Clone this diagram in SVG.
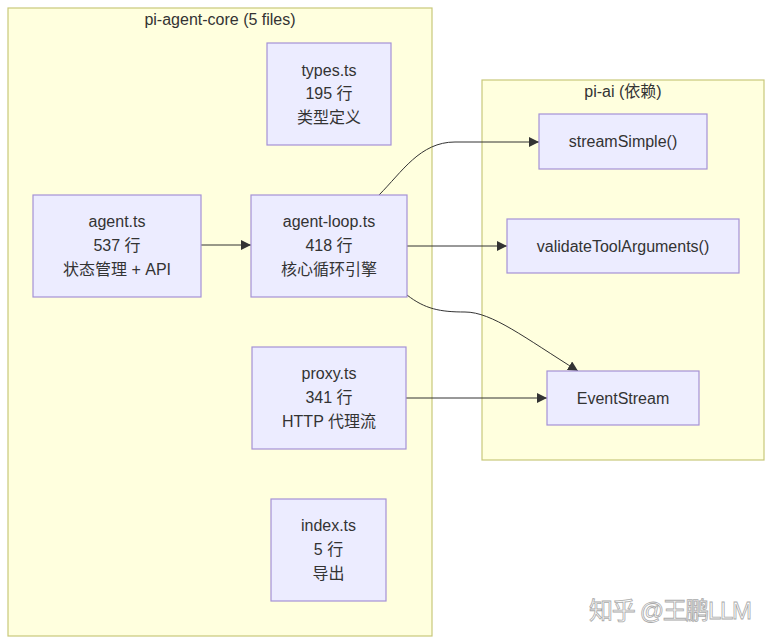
<svg xmlns="http://www.w3.org/2000/svg" width="773" height="644" viewBox="0 0 773 644">
<style>
.cluster{fill:#ffffde;stroke:#c8c87a;stroke-width:1.2}
.node rect{fill:#ececff;stroke:#a592d6;stroke-width:1.2}
text{font-family:"Liberation Sans","Noto Sans CJK SC",sans-serif;font-size:16px;fill:#333;text-anchor:middle}
.edge{fill:none;stroke:#333;stroke-width:1}
.wm{font-size:24px;fill:#fff;stroke:#aaa;stroke-width:0.8;text-anchor:start}
</style>
<defs>
<marker id="arr" viewBox="0 0 10 10" refX="10" refY="5" markerWidth="10" markerHeight="10" markerUnits="userSpaceOnUse" orient="auto">
<path d="M0,0 L10,5 L0,10 z" fill="#333"/>
</marker>
</defs>
<rect width="773" height="644" fill="#fff"/>
<g id="cluster-core">
<rect class="cluster" x="8" y="8" width="424" height="628"/>
<text x="220" y="25">pi-agent-core (5 files)</text>
</g>
<g id="cluster-ai">
<rect class="cluster" x="482" y="80" width="282" height="380"/>
<text x="623" y="97">pi-ai (依赖)</text>
</g>
<g id="edges">
<path class="edge" d="M201,245 L251,245" marker-end="url(#arr)"/>
<path class="edge" d="M379,195 C402,172 420,142 455,142 L539,142" marker-end="url(#arr)"/>
<path class="edge" d="M407,246 L507,246" marker-end="url(#arr)"/>
<path class="edge" d="M407,295 C425,309 440,312 465,312 C492,312 525,338 578,371" marker-end="url(#arr)"/>
<path class="edge" d="M406,398 L547,398" marker-end="url(#arr)"/>
</g>
<g id="types" class="node">
<rect x="267" y="43" width="124" height="102"/>
<text x="329" y="76">types.ts</text>
<text x="329" y="99">195 行</text>
<text x="329" y="123">类型定义</text>
</g>
<g id="agent" class="node">
<rect x="33" y="195" width="168" height="102"/>
<text x="117" y="227">agent.ts</text>
<text x="117" y="251">537 行</text>
<text x="117" y="275">状态管理 + API</text>
</g>
<g id="agent-loop" class="node">
<rect x="251" y="195" width="156" height="102"/>
<text x="329" y="227">agent-loop.ts</text>
<text x="329" y="251">418 行</text>
<text x="329" y="275">核心循环引擎</text>
</g>
<g id="proxy" class="node">
<rect x="252" y="347" width="154" height="102"/>
<text x="329" y="379">proxy.ts</text>
<text x="329" y="403">341 行</text>
<text x="329" y="427">HTTP 代理流</text>
</g>
<g id="index" class="node">
<rect x="271" y="499" width="115" height="102"/>
<text x="328.5" y="531">index.ts</text>
<text x="328.5" y="555">5 行</text>
<text x="328.5" y="579">导出</text>
</g>
<g id="streamSimple" class="node">
<rect x="539" y="114" width="168" height="55"/>
<text x="623" y="147">streamSimple()</text>
</g>
<g id="validate" class="node">
<rect x="507" y="219" width="232" height="54"/>
<text x="623" y="252">validateToolArguments()</text>
</g>
<g id="eventstream" class="node">
<rect x="547" y="371" width="152" height="54"/>
<text x="623" y="404">EventStream</text>
</g>
<text class="wm" x="589" y="619" textLength="163">知乎 @王鹏LLM</text>
</svg>
